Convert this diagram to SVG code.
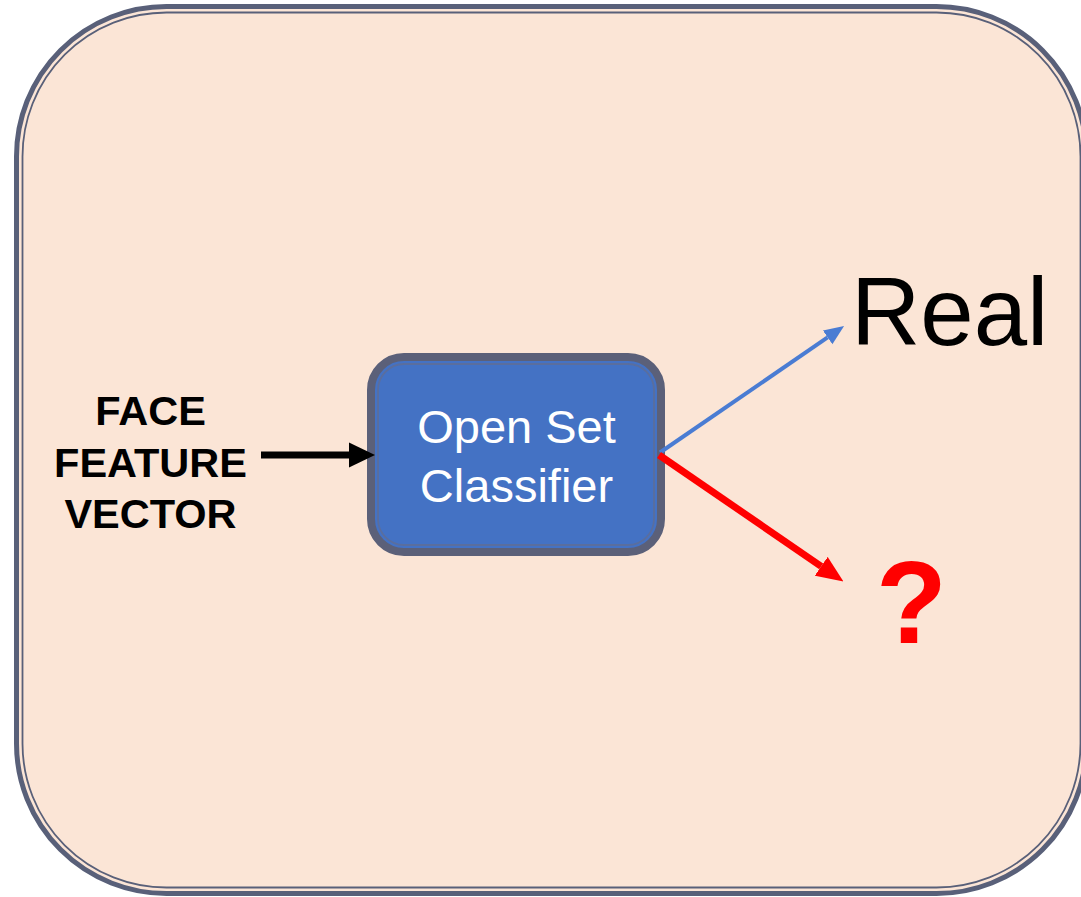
<svg xmlns="http://www.w3.org/2000/svg" width="1081" height="897" viewBox="0 0 1081 897">
  <style>
    .frame-outer { fill: #FBE5D6; stroke: #596079; stroke-width: 5; }
    .frame-inner { fill: none; stroke: #596079; stroke-width: 1.8; }
    .box-outer { fill: #4472C4; stroke: #5B6079; stroke-width: 8; }
    .box-inner { fill: none; stroke: #5A6E9E; stroke-width: 1.8; }
    .box-label { font-family: "Liberation Sans", Arial, sans-serif; font-size: 47px; fill: #FFFFFF; text-anchor: middle; }
    .input-label { font-family: "Liberation Sans", Arial, sans-serif; font-size: 41.5px; font-weight: bold; fill: #000000; text-anchor: middle; }
    .out-real { font-family: "Liberation Sans", Arial, sans-serif; font-size: 96px; fill: #000000; }
    .out-unknown { font-family: "Liberation Sans", Arial, sans-serif; font-size: 116px; font-weight: bold; fill: #FF0000; text-anchor: middle; }
  </style>
  <defs>
    <marker id="head-black" markerUnits="userSpaceOnUse" markerWidth="26" markerHeight="26" viewBox="0 0 24 24" refX="0" refY="12" orient="auto">
      <path d="M0,0.5 L24,12 L0,23.5 Z" fill="#000000"/>
    </marker>
    <marker id="head-blue" markerUnits="userSpaceOnUse" markerWidth="20" markerHeight="18" viewBox="0 0 19 16" refX="0" refY="8" orient="auto">
      <path d="M0,0 L19,8 L0,16 Z" fill="#4A7CD3"/>
    </marker>
    <marker id="head-red" markerUnits="userSpaceOnUse" markerWidth="27" markerHeight="24" viewBox="0 0 26 22" refX="0" refY="11" orient="auto">
      <path d="M0,0 L26,11 L0,22 Z" fill="#FF0000"/>
    </marker>
  </defs>

  <!-- outer panel with thick-thin border -->
  <g id="panel">
    <rect class="frame-outer" x="16.5" y="6.5" width="1070" height="887" rx="150" ry="150"/>
    <rect class="frame-inner" x="22.5" y="12.5" width="1058" height="875" rx="144" ry="144"/>
  </g>

  <!-- input label -->
  <g id="input">
    <text class="input-label" x="150.5" y="425">FACE</text>
    <text class="input-label" x="150.5" y="477">FEATURE</text>
    <text class="input-label" x="150.5" y="528">VECTOR</text>
  </g>

  <!-- classifier node -->
  <g id="classifier">
    <rect class="box-outer" x="371" y="357" width="290" height="195" rx="33" ry="33"/>
    <rect class="box-inner" x="378" y="364" width="276" height="181" rx="26" ry="26"/>
    <text class="box-label" x="516.5" y="443">Open Set</text>
    <text class="box-label" x="516.5" y="502">Classifier</text>
  </g>

  <!-- output labels -->
  <g id="real">
    <text class="out-real" x="851" y="345">Real</text>
  </g>
  <g id="unknown">
    <text class="out-unknown" x="911.5" y="643">?</text>
  </g>

  <!-- connectors -->
  <g id="connectors" fill="none">
    <line x1="261" y1="455" x2="349" y2="455" stroke="#000000" stroke-width="7" marker-end="url(#head-black)"/>
    <line x1="660" y1="452.5" x2="827.6" y2="337.4" stroke="#4A7CD3" stroke-width="4" marker-end="url(#head-blue)"/>
    <line x1="659" y1="455" x2="821.2" y2="566.3" stroke="#FF0000" stroke-width="7" marker-end="url(#head-red)"/>
  </g>
</svg>
